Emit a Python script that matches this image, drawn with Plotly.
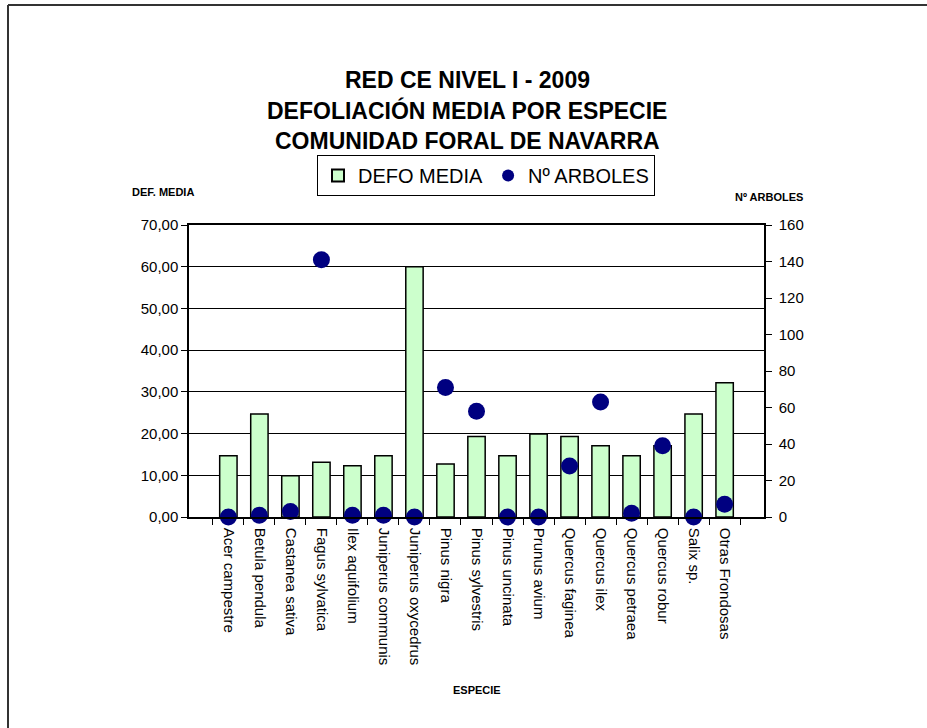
import plotly.graph_objects as go

especies = ["Acer campestre", "Betula pendula", "Castanea sativa", "Fagus sylvatica",
            "Ilex aquifolium", "Juniperus communis", "Juniperus oxycedrus", "Pinus nigra",
            "Pinus sylvestris", "Pinus uncinata", "Prunus avium", "Quercus faginea",
            "Quercus ilex", "Quercus petraea", "Quercus robur", "Salix sp.", "Otras Frondosas"]
defo_media = [14.7, 24.7, 9.9, 13.1, 12.3, 14.7, 60.0, 12.7, 19.3, 14.7, 19.9, 19.3,
              17.1, 14.7, 17.1, 24.7, 32.2]
n_arboles = [0, 1, 3, 141, 1, 1, 0, 71, 58, 0, 0, 28, 63, 2, 39, 0, 7]

left_ticks = [0, 10, 20, 30, 40, 50, 60, 70]
left_ticktext = ["0,00", "10,00", "20,00", "30,00", "40,00", "50,00", "60,00", "70,00"]
right_ticks = [0, 20, 40, 60, 80, 100, 120, 140, 160]

FONT = "Liberation Sans, Arial, sans-serif"

fig = go.Figure()
fig.add_trace(go.Bar(
    x=especies, y=defo_media, name="DEFO MEDIA",
    marker=dict(color="#CCFFCC", line=dict(color="black", width=1.5)),
))
fig.add_trace(go.Scatter(
    x=especies, y=n_arboles, name="Nº ARBOLES", yaxis="y2", mode="markers",
    marker=dict(color="#000080", size=17, symbol="circle"),
    cliponaxis=False,
))

# plot area: x 189..764, y 225..517
L, R, T, B = 189, 927 - 764, 225, 728 - 517
PW, PH = 764 - 189, 517 - 225

def px(x):
    return (x - 189) / PW

def py(y):
    return (517 - y) / PH

fig.update_layout(
    width=927, height=728,
    margin=dict(l=L, r=R, t=T, b=B, autoexpand=False),
    paper_bgcolor="white", plot_bgcolor="white",
    font=dict(family=FONT, color="black", size=14),
    bargap=0.44,
    showlegend=True,
    legend=dict(
        orientation="h", x=px(486), y=py(155), xanchor="center", yanchor="top",
        bordercolor="black", borderwidth=1, bgcolor="white",
        font=dict(size=20, family=FONT), itemsizing="constant",
        tracegroupgap=0, itemwidth=30,
    ),
    xaxis=dict(
        tickangle=90, tickfont=dict(size=15), showgrid=False,
        showline=True, linecolor="black", linewidth=1.5, mirror=True,
        ticks="outside", ticklen=6, tickcolor="black", tickson="boundaries",
        ticklabelstandoff=6,
    ),
    yaxis=dict(
        range=[0, 70], tickvals=left_ticks, ticktext=left_ticktext,
        showgrid=True, gridcolor="black", gridwidth=1,
        showline=True, linecolor="black", linewidth=1.5,
        ticks="outside", ticklen=6, tickcolor="black",
        zeroline=False, tickfont=dict(size=15),
    ),
    yaxis2=dict(
        range=[0, 160], tickvals=right_ticks, overlaying="y", side="right",
        showgrid=False, showline=True, linecolor="black", linewidth=1.5,
        ticks="outside", ticklen=6, tickcolor="black", zeroline=False,
        tickfont=dict(size=15), ticklabelstandoff=4,
    ),
    shapes=[
        dict(type="line", xref="paper", yref="paper", x0=px(8), x1=px(940), y0=py(5), y1=py(5),
             line=dict(color="#333333", width=2)),
        dict(type="line", xref="paper", yref="paper", x0=px(8), x1=px(8), y0=py(5), y1=py(740),
             line=dict(color="#333333", width=2)),
    ],
    annotations=[
        dict(text="<b>RED CE NIVEL I - 2009</b>", x=px(467), y=py(80), xref="paper", yref="paper",
             showarrow=False, font=dict(size=23, family=FONT), xanchor="center", yanchor="middle"),
        dict(text="<b>DEFOLIACIÓN MEDIA POR ESPECIE</b>", x=px(467), y=py(110), xref="paper", yref="paper",
             showarrow=False, font=dict(size=23, family=FONT), xanchor="center", yanchor="middle"),
        dict(text="<b>COMUNIDAD FORAL DE NAVARRA</b>", x=px(467), y=py(141), xref="paper", yref="paper",
             showarrow=False, font=dict(size=23, family=FONT), xanchor="center", yanchor="middle"),
        dict(text="<b>DEF. MEDIA</b>", x=px(163), y=py(192), xref="paper", yref="paper",
             showarrow=False, font=dict(size=11, family=FONT), xanchor="center", yanchor="middle"),
        dict(text="<b>Nº ARBOLES</b>", x=px(769), y=py(197), xref="paper", yref="paper",
             showarrow=False, font=dict(size=11, family=FONT), xanchor="center", yanchor="middle"),
        dict(text="<b>ESPECIE</b>", x=px(477), y=py(690), xref="paper", yref="paper",
             showarrow=False, font=dict(size=11, family=FONT), xanchor="center", yanchor="middle"),
    ],
)

fig.write_html("out.html", config={"displayModeBar": False},
               post_script="document.body.style.margin='0';document.body.style.padding='0';")
